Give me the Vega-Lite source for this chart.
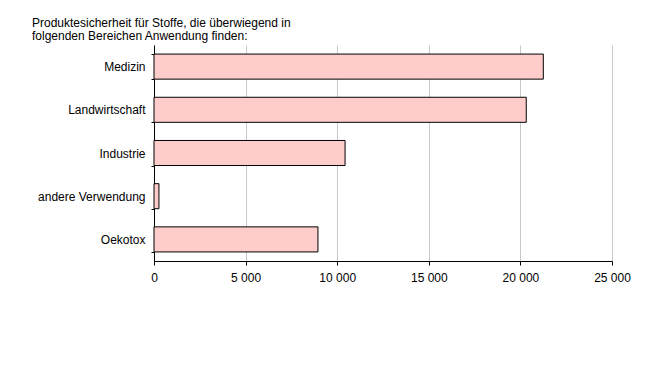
{
  "$schema": "https://vega.github.io/schema/vega-lite/v6.json",
  "autosize": "none",
  "width": 458,
  "height": 216,
  "padding": {"left": 154, "top": 45, "right": 48, "bottom": 117},
  "background": "white",
  "title": {
    "text": ["Produktesicherheit für Stoffe, die überwiegend in", "folgenden Bereichen Anwendung finden:"],
    "anchor": "start",
    "frame": "group",
    "dx": -122,
    "offset": -4,
    "font": "Liberation Sans",
    "fontSize": 12,
    "fontWeight": "normal",
    "lineHeight": 13,
    "color": "black"
  },
  "data": {
    "values": [
      {"Bereich": "Medizin", "Wert": 21250},
      {"Bereich": "Landwirtschaft", "Wert": 20320},
      {"Bereich": "Industrie", "Wert": 10430},
      {"Bereich": "andere Verwendung", "Wert": 270},
      {"Bereich": "Oekotox", "Wert": 8950}
    ]
  },
  "config": {
    "view": {"stroke": null},
    "axis": {
      "labelFont": "Liberation Sans",
      "labelFontSize": 12,
      "labelColor": "black",
      "domainColor": "black",
      "tickColor": "black"
    }
  },
  "mark": {"type": "bar", "fill": "#ffcccc", "stroke": "black", "strokeWidth": 1},
  "encoding": {
    "y": {
      "field": "Bereich",
      "type": "nominal",
      "sort": null,
      "scale": {"paddingInner": 0.42, "paddingOuter": 0.21},
      "axis": {
        "title": null,
        "tickBand": "extent",
        "tickSize": 3,
        "labelPadding": 6,
        "grid": false
      }
    },
    "x": {
      "field": "Wert",
      "type": "quantitative",
      "scale": {"domain": [0, 25000], "nice": false},
      "axis": {
        "title": null,
        "values": [0, 5000, 10000, 15000, 20000, 25000],
        "labelExpr": "replace(format(datum.value, ','), ',', ' ')",
        "labelFlush": false,
        "grid": true,
        "gridColor": "#c8c8c8",
        "tickSize": 4,
        "labelPadding": 7
      }
    }
  }
}
